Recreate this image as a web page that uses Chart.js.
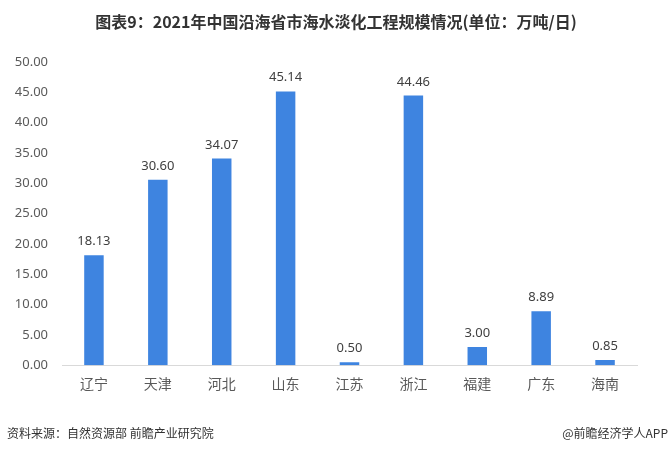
<!DOCTYPE html>
<html>
<head>
<meta charset="utf-8">
<script src="https://cdn.jsdelivr.net/npm/chart.js@4/dist/chart.umd.min.js"></script>
<style>
html,body{margin:0;padding:0;background:#fff;}
#wrap{position:relative;width:672px;height:454px;overflow:hidden;}
#title{position:absolute;left:0;top:9px;width:672px;text-align:center;font:bold 16px "Noto Sans CJK SC",sans-serif;color:#333;}
#src{position:absolute;left:7px;top:424px;font:12px "Noto Sans CJK SC",sans-serif;color:#333;}
#app{position:absolute;right:4px;top:424px;font:12px "Noto Sans CJK SC",sans-serif;color:#333;}
canvas{position:absolute;left:0;top:0;}
</style>
</head>
<body>
<div id="wrap">
<canvas id="c" width="672" height="454"></canvas>
<div id="title">图表9：2021年中国沿海省市海水淡化工程规模情况(单位：万吨/日)</div>
<div id="src">资料来源：自然资源部 前瞻产业研究院</div>
<div id="app">@前瞻经济学人APP</div>
</div>
<script>
const categories = ['辽宁','天津','河北','山东','江苏','浙江','福建','广东','海南'];
const values = [18.13, 30.60, 34.07, 45.14, 0.50, 44.46, 3.00, 8.89, 0.85];
const yTicks = [0,5,10,15,20,25,30,35,40,45,50];

const labelPlugin = {
  id: 'valueLabels',
  afterDatasetsDraw(chart) {
    const ctx = chart.ctx;
    const meta = chart.getDatasetMeta(0);
    ctx.save();
    ctx.font = '13px "Noto Sans", sans-serif';
    ctx.fillStyle = '#404040';
    ctx.textAlign = 'center';
    ctx.textBaseline = 'alphabetic';
    meta.data.forEach((bar, i) => {
      ctx.fillText(values[i].toFixed(2), bar.x, bar.y - 10);
    });
    ctx.restore();
  }
};

new Chart(document.getElementById('c'), {
  type: 'bar',
  data: {
    labels: categories,
    datasets: [{
      data: values,
      backgroundColor: '#3e84e0',
      barPercentage: 0.305,
      categoryPercentage: 1.0
    }]
  },
  options: {
    responsive: false,
    animation: false,
    layout: { padding: { top: 62, bottom: 60, left: 0, right: 35 } },
    plugins: { legend: { display: false }, tooltip: { enabled: false }, title: { display: false } },
    scales: {
      x: {
        grid: { display: false },
        border: { display: true, color: '#d9d9d9', width: 1 },
        ticks: { color: '#595959', font: { size: 14, family: '"Noto Sans CJK SC", sans-serif' }, padding: 2 }
      },
      y: {
        min: 0, max: 50,
        afterBuildTicks(scale) { scale.ticks = yTicks.map(v => ({ value: v })); },
        afterFit(scale) { scale.width = 62; },
        grid: { display: false },
        border: { display: false },
        ticks: {
          color: '#595959',
          font: { size: 13, family: '"Noto Sans", sans-serif' },
          padding: 6,
          callback: v => Number(v).toFixed(2)
        }
      }
    }
  },
  plugins: [labelPlugin]
});
</script>
</body>
</html>
